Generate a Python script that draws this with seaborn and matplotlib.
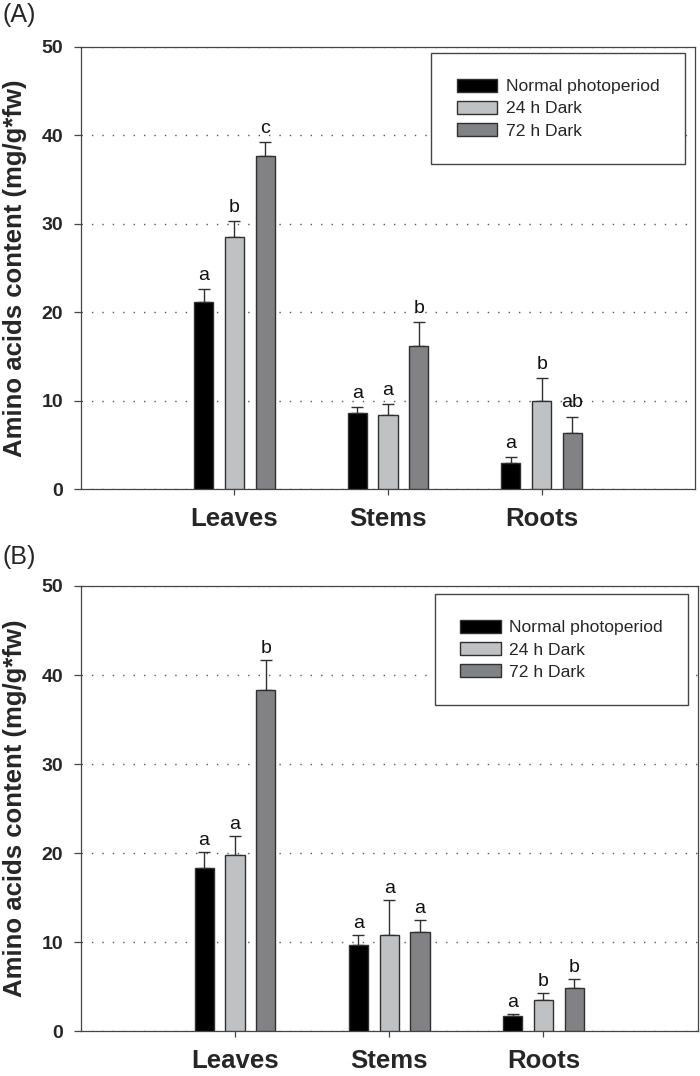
import numpy as np
import pandas as pd
import matplotlib
matplotlib.use('Agg')
import matplotlib.pyplot as plt
from matplotlib.patches import Patch
import seaborn as sns

# --- data ---
tissues = ['Leaves', 'Stems', 'Roots']
treatments = ['Normal photoperiod', '24 h Dark', '72 h Dark']

# panel A: mean and upper error (SE) per treatment, in tissue order
a_normal = [21.1, 8.57, 2.97]
a_dark24 = [28.5, 8.38, 9.94]
a_dark72 = [37.7, 16.2, 6.32]
a_err_normal = [1.55, 0.77, 0.72]
a_err_dark24 = [1.80, 1.22, 2.60]
a_err_dark72 = [1.55, 2.70, 1.90]
a_letters = [['a', 'a', 'a'], ['b', 'a', 'b'], ['c', 'b', 'ab']]

# panel B
b_normal = [18.3, 9.73, 1.68]
b_dark24 = [19.8, 10.86, 3.55]
b_dark72 = [38.3, 11.13, 4.84]
b_err_normal = [1.80, 1.13, 0.23]
b_err_dark24 = [2.10, 3.90, 0.71]
b_err_dark72 = [3.40, 1.37, 1.06]
b_letters = [['a', 'a', 'a'], ['a', 'a', 'b'], ['b', 'a', 'b']]

colors = ['#000000', '#c0c1c3', '#818286']
edge = '#303030'
spine_col = '#454545'

sns.set_style('ticks')
plt.rcParams['font.family'] = ['Liberation Sans', 'DejaVu Sans']


def make_frame(means, errs):
    rows = []
    for treat, m, e in zip(treatments, means, errs):
        for tis, v, s in zip(tissues, m, e):
            rows.append({'tissue': tis, 'treatment': treat, 'value': v, 'err': s})
    return pd.DataFrame(rows)


def draw_panel(ax, df, letters, legend_anchor, letter_offset):
    sns.barplot(data=df, x='tissue', y='value', hue='treatment',
                order=tissues, hue_order=treatments, palette=colors,
                width=0.6, gap=0.38, errorbar=None, edgecolor=edge,
                linewidth=1.0, legend=False, ax=ax, zorder=3)

    # error bars (upper only) + significance letters
    bar_conts = list(ax.containers)
    for k, cont in enumerate(bar_conts):
        sub = df[df['treatment'] == treatments[k]].set_index('tissue').loc[tissues]
        for j, bar in enumerate(cont):
            xc = bar.get_x() + bar.get_width() / 2
            top = sub['value'].iloc[j]
            err = sub['err'].iloc[j]
            ax.errorbar(xc, top, yerr=[[0], [err]], fmt='none', ecolor=edge,
                        elinewidth=1.0, capsize=4.6, capthick=1.0, zorder=2)
            ax.annotate(letters[k][j], (xc, top + err), xytext=(0, letter_offset),
                        textcoords='offset points', ha='center', va='baseline',
                        fontsize=14, color='#111111')

    ax.set_xlim(-1, 3)
    ax.set_ylim(0, 50)
    ax.set_yticks(np.arange(0, 51, 10))
    ax.yaxis.grid(True, linestyle=(0, (1, 6.5)), color='#555555', linewidth=1.0)
    ax.xaxis.grid(False)
    ax.set_axisbelow(True)

    ax.set_xlabel('')
    ax.set_ylabel('Amino acids content (mg/g*fw)', fontsize=18.5, fontweight='bold')
    ax.yaxis.set_label_coords(-0.087, 0.5)

    ax.tick_params(axis='y', length=4.8, width=0.9, color=spine_col, pad=8,
                   labelsize=14)
    ax.tick_params(axis='x', length=4.5, width=0.9, color=spine_col, pad=8.5,
                   labelsize=18.5)
    for lab in ax.get_xticklabels() + ax.get_yticklabels():
        lab.set_fontweight('bold')
    for sp in ax.spines.values():
        sp.set_visible(True)
        sp.set_color(spine_col)
        sp.set_linewidth(0.9)

    handles = [Patch(facecolor=c, edgecolor=edge, linewidth=1.0) for c in colors]
    leg = ax.legend(handles, treatments, loc='upper right', bbox_to_anchor=legend_anchor,
                    borderaxespad=0, fontsize=12.6, frameon=True, fancybox=False,
                    framealpha=1, edgecolor=spine_col, borderpad=1.45,
                    handlelength=2.3, handleheight=0.75, handletextpad=0.5,
                    labelspacing=0.38)
    leg.get_frame().set_linewidth(1.0)
    leg.set_zorder(5)


fig = plt.figure(figsize=(7, 10.76), dpi=100)
ax_a = fig.add_axes([0.1153, 0.5453, 0.878, 0.4113])
ax_b = fig.add_axes([0.1153, 0.0415, 0.8814, 0.4139])

draw_panel(ax_a, make_frame([a_normal, a_dark24, a_dark72],
                            [a_err_normal, a_err_dark24, a_err_dark72]),
           a_letters, (0.983, 0.985), 6.5)
draw_panel(ax_b, make_frame([b_normal, b_dark24, b_dark72],
                            [b_err_normal, b_err_dark24, b_err_dark72]),
           b_letters, (0.985, 0.981), 5.0)

fig.text(0.003, 0.997, '(A)', fontsize=18, ha='left', va='top')
fig.text(0.003, 1 - 545 / 1076, '(B)', fontsize=18, ha='left', va='top')

fig.savefig('out.png', dpi=100)
